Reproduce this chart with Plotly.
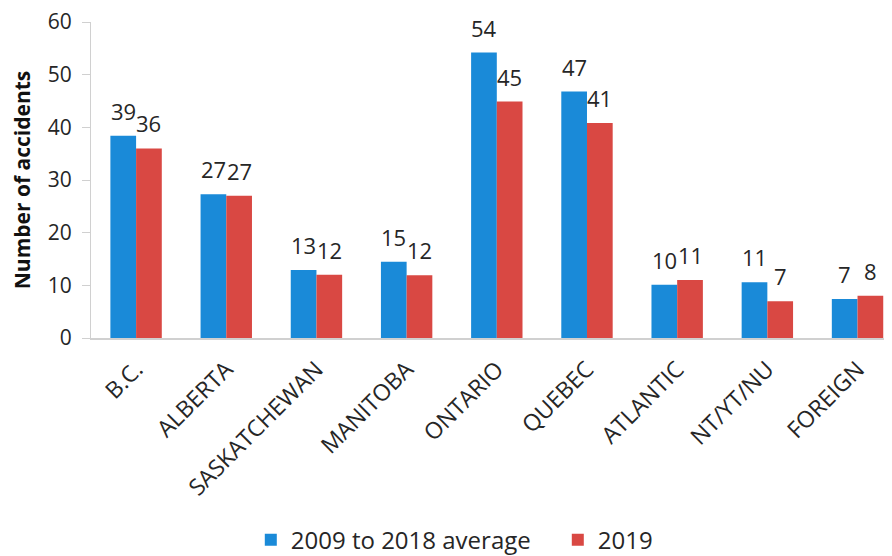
import plotly.graph_objects as go

# data
provinces = ["B.C.", "ALBERTA", "SASKATCHEWAN", "MANITOBA", "ONTARIO",
             "QUEBEC", "ATLANTIC", "NT/YT/NU", "FOREIGN"]
avg_2009_2018 = [38.4, 27.3, 12.9, 14.5, 54.2, 46.8, 10.1, 10.6, 7.4]
acc_2019 = [36.0, 27.0, 12.0, 11.9, 44.9, 40.8, 11.0, 7.0, 8.0]
avg_labels = ["39", "27", "13", "15", "54", "47", "10", "11", "7"]
labels_2019 = ["36", "27", "12", "12", "45", "41", "11", "7", "8"]

# page body adds 8px, so margins are reduced by that much
W, H = 892, 556
L, R, T, B = 83, 10, 14, 226
BARGAP = 0.43
X_RANGE = [-0.5, 8.36]

BLUE = "#1a8ad8"
RED = "#d94843"
TXT = "#262626"
AXIS = "#d0d0d0"
FONT = "Open Sans, Segoe UI, sans-serif"

fig = go.Figure()
fig.add_trace(go.Bar(x=provinces, y=avg_2009_2018, name="2009 to 2018 average",
                     marker=dict(color=BLUE, line=dict(width=0))))
fig.add_trace(go.Bar(x=provinces, y=acc_2019, name="2019",
                     marker=dict(color=RED, line=dict(width=0))))

# value labels above each bar
cat_px = (W - L - R) / (X_RANGE[1] - X_RANGE[0])
half_bar = cat_px * (1 - BARGAP) / 4
for vals, labs, sh in [(avg_2009_2018, avg_labels, -half_bar),
                       (acc_2019, labels_2019, half_bar)]:
    for p, v, t in zip(provinces, vals, labs):
        fig.add_annotation(x=p, y=v, text=t, showarrow=False, xshift=sh,
                           yanchor="bottom", yshift=8,
                           font=dict(size=22, color=TXT, family=FONT))

fig.update_layout(
    width=W, height=H,
    margin=dict(l=L, r=R, t=T, b=B, autoexpand=False),
    paper_bgcolor="white", plot_bgcolor="white",
    barmode="group", bargap=BARGAP, bargroupgap=0,
    font=dict(family=FONT, color=TXT),
    showlegend=True,
    legend=dict(orientation="h", x=0.20, xanchor="left", y=-0.64,
                yanchor="middle", font=dict(size=24, color=TXT),
                itemwidth=30, entrywidth=262, entrywidthmode="pixels",
                tracegroupgap=0),
)
fig.update_xaxes(range=X_RANGE, showline=True, linecolor=AXIS, linewidth=1.5,
                 ticks="", tickangle=-45, showgrid=False, automargin=False,
                 ticklabelstandoff=7,
                 tickfont=dict(size=23, color=TXT, family=FONT))
fig.update_yaxes(range=[0, 60], dtick=10, showline=True, linecolor=AXIS,
                 linewidth=1, ticks="outside", ticklen=8, tickcolor=AXIS,
                 showgrid=False, zeroline=False, ticklabelstandoff=6,
                 automargin=False, ticklabeloverflow="allow",
                 tickfont=dict(size=21, color=TXT, family=FONT),
                 title=dict(text="<b>Number of accidents</b>", standoff=14,
                            font=dict(size=21, color="#111111", family=FONT)))

fig.write_html("out.html")
